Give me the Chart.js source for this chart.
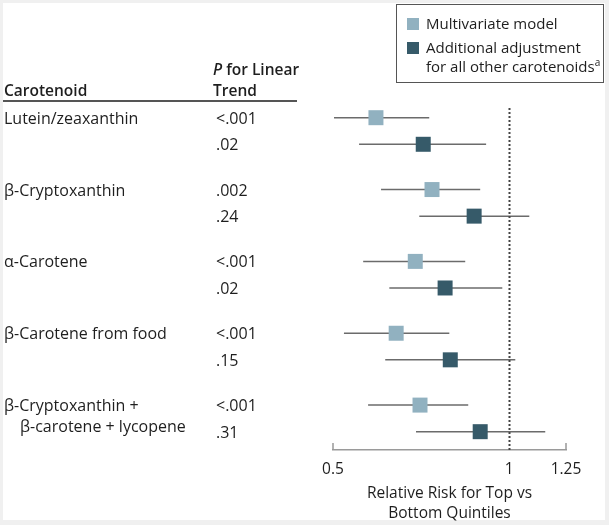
<!DOCTYPE html>
<html>
<head>
<meta charset="utf-8">
<script src="https://cdn.jsdelivr.net/npm/chart.js@4.4.1/dist/chart.umd.min.js"></script>
<style>
  html, body { margin: 0; padding: 0; background: #f0f0f0; }
  #wrap { position: relative; width: 609px; height: 525px; overflow: hidden; font-family: 'Open Sans', sans-serif; color: #1e1e1e; }
  #panel { position: absolute; left: 3px; top: 3px; width: 602px; height: 517px; background: #fff; }
  #c { position: absolute; left: 0; top: 0; }
  .t { position: absolute; font-size: 15px; line-height: 20px; white-space: nowrap; }
  .b { font-size: 16px; }
  .hdr { font-weight: 600; font-size: 15.5px; }
  #rule { position: absolute; left: 3px; top: 100px; width: 294px; height: 2px; background: #555; }
  #legend { position: absolute; left: 396px; top: 4px; width: 208px; height: 79px; border: 1.5px solid #555; box-sizing: border-box; }
  .sw { position: absolute; width: 12px; height: 12px; }
</style>
</head>
<body>
<div id="wrap">
  <div id="panel"></div>
  <canvas id="c" width="609" height="525"></canvas>
  <div class="t hdr" style="left:4px;top:80px;">Carotenoid</div>
  <div class="t hdr" style="left:213px;top:59px;"><i>P</i> for Linear</div>
  <div class="t hdr" style="left:213px;top:80px;">Trend</div>
  <div id="rule"></div>
  <div id="legend"></div>
  <div id="labels"></div>
</div>
<script>
// ---- data ----
const categories = ['Lutein/zeaxanthin', 'β-Cryptoxanthin', 'α-Carotene', 'β-Carotene from food', ['β-Cryptoxanthin +', 'β-carotene + lycopene']];
const seriesNames = ['Multivariate model', ['Additional adjustment', 'for all other carotenoids']];
const pTrendMultivariate = ['<.001', '.002', '<.001', '<.001', '<.001'];
const pTrendAdjusted = ['.02', '.24', '.02', '.15', '.31'];
const rrMultivariate = [0.592, 0.738, 0.691, 0.641, 0.704];
const lowMultivariate = [0.502, 0.604, 0.563, 0.522, 0.574];
const highMultivariate = [0.730, 0.892, 0.841, 0.790, 0.851];
const rrAdjusted = [0.713, 0.871, 0.777, 0.793, 0.892];
const lowAdjusted = [0.554, 0.702, 0.624, 0.614, 0.693];
const highAdjusted = [0.913, 1.082, 0.973, 1.024, 1.152];
const xTicks = [0.5, 1, 1.25];

const colorMulti = '#91b1c0';
const colorAdj = '#365a69';
const rowOffset = 0.185;

function rows(rr, lo, hi, off) {
  return rr.map((v, i) => ({ x: v, y: i + off, lo: lo[i], hi: hi[i] }));
}

const forestPlugin = {
  id: 'forest',
  beforeDatasetsDraw(chart) {
    const ctx = chart.ctx, xs = chart.scales.x, ys = chart.scales.y, a = chart.chartArea;
    ctx.save();
    ctx.strokeStyle = '#6b6b6b';
    ctx.lineWidth = 1.5;
    chart.data.datasets.forEach(ds => {
      ds.data.forEach(p => {
        const y = ys.getPixelForValue(p.y);
        ctx.beginPath();
        ctx.moveTo(xs.getPixelForValue(p.lo), y);
        ctx.lineTo(xs.getPixelForValue(p.hi), y);
        ctx.stroke();
      });
    });
    const x1 = Math.round(xs.getPixelForValue(1)) + 0.5;
    ctx.strokeStyle = '#444';
    ctx.lineWidth = 2;
    ctx.setLineDash([2, 2]);
    ctx.beginPath();
    ctx.moveTo(x1, a.top);
    ctx.lineTo(x1, a.bottom);
    ctx.stroke();
    ctx.restore();
  },
  afterDraw(chart) {
    const ctx = chart.ctx, xs = chart.scales.x, a = chart.chartArea;
    ctx.save();
    ctx.strokeStyle = '#999';
    ctx.lineWidth = 1.5;
    [xTicks[0], xTicks[xTicks.length - 1]].forEach(v => {
      const x = xs.getPixelForValue(v);
      ctx.beginPath();
      ctx.moveTo(x, a.bottom);
      ctx.lineTo(x, a.bottom - 7);
      ctx.stroke();
    });
    ctx.restore();
  }
};

Chart.defaults.font.family = "'Open Sans', sans-serif";
Chart.defaults.color = '#1e1e1e';

const chart = new Chart(document.getElementById('c'), {
  type: 'scatter',
  data: {
    datasets: [
      { label: 'Multivariate model', data: rows(rrMultivariate, lowMultivariate, highMultivariate, -rowOffset),
        pointStyle: 'rect', pointRadius: 10.6, pointHoverRadius: 10.6, backgroundColor: colorMulti, borderWidth: 0 },
      { label: 'Additional adjustment', data: rows(rrAdjusted, lowAdjusted, highAdjusted, rowOffset),
        pointStyle: 'rect', pointRadius: 10.6, pointHoverRadius: 10.6, backgroundColor: colorAdj, borderWidth: 0 }
    ]
  },
  options: {
    responsive: false,
    animation: false,
    layout: { padding: { left: 333, right: 43, top: 108, bottom: 0 } },
    plugins: { legend: { display: false }, tooltip: { enabled: false } },
    scales: {
      x: {
        type: 'logarithmic',
        min: 0.5, max: 1.25,
        afterBuildTicks: s => { s.ticks = xTicks.map(v => ({ value: v })); },
        afterFit: s => { s.height = 75; },
        grid: { display: false, drawTicks: false, tickLength: 0 },
        border: { display: true, color: '#9a9a9a', width: 1.5 },
        ticks: { padding: 10, font: { size: 15.5 }, color: '#1e1e1e', maxRotation: 0, autoSkip: false,
                 callback: v => String(v) },
        title: { display: true, text: ['Relative Risk for Top vs', 'Bottom Quintiles'],
                 font: { size: 15.5, lineHeight: 1.25 }, color: '#1e1e1e', padding: { top: 4, bottom: 2 } }
      },
      y: {
        type: 'linear', reverse: true, min: -0.32, max: 4.44, display: false
      }
    }
  },
  plugins: [forestPlugin]
});

// ---- left table, positioned from the chart's y scale ----
const ys = chart.scales.y;
const labels = document.getElementById('labels');
function addText(txt, left, cy) {
  const d = document.createElement('div');
  d.className = 't b';
  d.style.left = left + 'px';
  d.style.top = (cy - 10) + 'px';
  d.textContent = txt;
  labels.appendChild(d);
}
categories.forEach((c, i) => {
  const y0 = ys.getPixelForValue(i - rowOffset);
  if (Array.isArray(c)) {
    addText(c[0], 4, y0);
    addText(c[1], 20, y0 + 21);
  } else {
    addText(c, 4, y0);
  }
  addText(pTrendMultivariate[i], 216, y0);
  addText(pTrendAdjusted[i], 216, ys.getPixelForValue(i + rowOffset));
});

const legend = document.getElementById('legend');
legend.innerHTML =
  '<div class="sw" style="left:10px;top:13px;background:' + colorMulti + '"></div>' +
  '<div class="t" style="left:29px;top:8px;">' + seriesNames[0] + '</div>' +
  '<div class="sw" style="left:10px;top:37px;background:' + colorAdj + '"></div>' +
  '<div class="t" style="left:29px;top:32px;">' + seriesNames[1][0] + '</div>' +
  '<div class="t" style="left:29px;top:51px;">' + seriesNames[1][1] + '<sup style="font-size:10px;line-height:0;">a</sup></div>';
</script>
</body>
</html>
